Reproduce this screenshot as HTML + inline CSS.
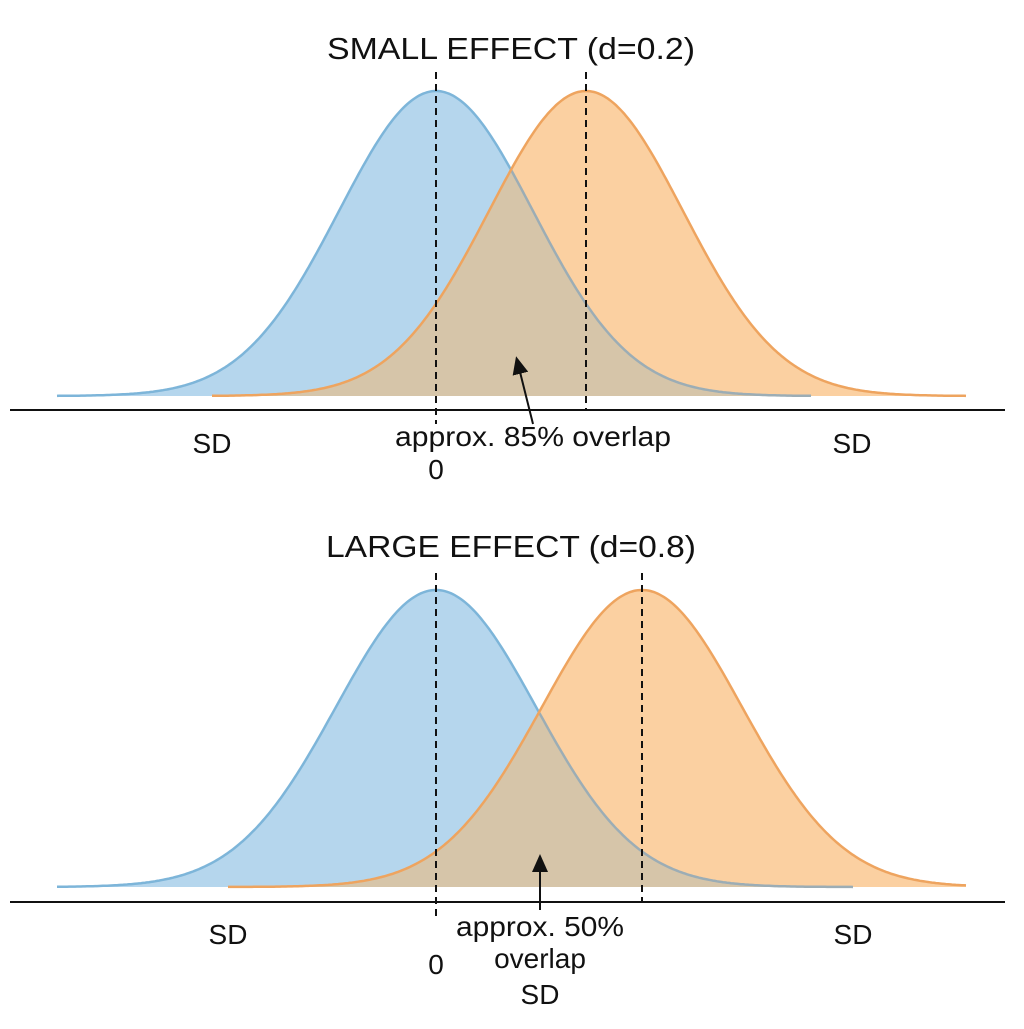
<!DOCTYPE html>
<html><head><meta charset="utf-8"><style>
html,body{margin:0;padding:0;background:#fff}
svg text{font-family:"Liberation Sans",sans-serif;fill:#111}
</style></head><body>
<svg id="s" width="1024" height="1024" viewBox="0 0 1024 1024" xmlns="http://www.w3.org/2000/svg">
<defs><marker id="ah" markerWidth="10" markerHeight="10" refX="5" refY="5" orient="auto"><path d="M0,1 L9,5 L0,9 Z" fill="#111"/></marker></defs>
<g id="g"></g>
<text x="511" y="59" font-size="31" text-anchor="middle" textLength="368" lengthAdjust="spacingAndGlyphs">SMALL EFFECT (d=0.2)</text>
<text x="212" y="453" font-size="28" text-anchor="middle">SD</text>
<text x="533" y="446" font-size="28" text-anchor="middle" textLength="276" lengthAdjust="spacingAndGlyphs">approx. 85% overlap</text>
<text x="436" y="479" font-size="28" text-anchor="middle">0</text>
<text x="852" y="453" font-size="28" text-anchor="middle">SD</text>
<line x1="533" y1="424" x2="518" y2="364" stroke="#111" stroke-width="2" marker-end="url(#ah)"/>
<text x="511" y="557" font-size="31" text-anchor="middle" textLength="370" lengthAdjust="spacingAndGlyphs">LARGE EFFECT (d=0.8)</text>
<text x="228" y="944" font-size="28" text-anchor="middle">SD</text>
<text x="540" y="936" font-size="28" text-anchor="middle" textLength="168" lengthAdjust="spacingAndGlyphs">approx. 50%</text>
<text x="540" y="968" font-size="28" text-anchor="middle">overlap</text>
<text x="540" y="1004" font-size="28" text-anchor="middle">SD</text>
<text x="436" y="974" font-size="28" text-anchor="middle">0</text>
<text x="853" y="944" font-size="28" text-anchor="middle">SD</text>
<line x1="540" y1="910" x2="540" y2="862" stroke="#111" stroke-width="2" marker-end="url(#ah)"/>
</svg>
<script>
var g=document.getElementById('g'),NS='http://www.w3.org/2000/svg';
function el(t,a){var e=document.createElementNS(NS,t);for(var k in a)e.setAttribute(k,a[k]);g.appendChild(e);return e;}
function f(x,m,s,b,h){return b-h*Math.exp(-Math.pow((x-m)/s,2)/2);}
function panel(o){
 function pts(fn,a,b){var p=[];for(var x=a;x<=b;x+=2)p.push([x,fn(x)]);return p;}
 var fb=function(x){return f(x,o.m1,o.s,o.base,o.h);},fo=function(x){return f(x,o.m2,o.s,o.base,o.h);};
 var cx=(o.m1+o.m2)/2;
 var pb=pts(fb,o.b1,o.b2),po=pts(fo,o.o1,o.o2),pm=pts(function(x){return Math.max(fb(x),fo(x));},o.o1,o.b2);
 var pb1=pts(fb,o.b1,cx),pb2=pts(fb,cx,o.b2);
 function line(p){return 'M'+p.map(function(q){return q[0]+','+q[1].toFixed(1)}).join(' L');}
 function area(p){return line(p)+' L'+p[p.length-1][0]+','+o.base+' L'+p[0][0]+','+o.base+' Z';}
 el('path',{d:area(pb),fill:'#b5d6ed'});
 el('path',{d:area(po),fill:'#fbd0a1'});
 el('path',{d:area(pm),fill:'#d6c5a9'});
 el('path',{d:line(pb1),fill:'none',stroke:'#7db5d9','stroke-width':2.5});
 el('path',{d:line(pb2),fill:'none',stroke:'#9cadb5','stroke-width':2.5});
 el('path',{d:line(po),fill:'none',stroke:'#eea45f','stroke-width':2.5});
 el('line',{x1:10,x2:1005,y1:o.axis,y2:o.axis,stroke:'#111','stroke-width':2});
 el('line',{x1:o.m1,x2:o.m1,y1:o.top,y2:o.axis+o.ext,stroke:'#111','stroke-width':2,'stroke-dasharray':'7,5'});
 el('line',{x1:o.m2,x2:o.m2,y1:o.top,y2:o.axis,stroke:'#111','stroke-width':2,'stroke-dasharray':'7,5'});
}
panel({m1:436,m2:586,s:97,base:396,h:305,b1:57,b2:812,o1:212,o2:967,axis:410,top:72,ext:14});
panel({m1:436,m2:642,s:100,base:887,h:297,b1:57,b2:853,o1:228,o2:967,axis:902,top:573,ext:14});
</script>
</body></html>
